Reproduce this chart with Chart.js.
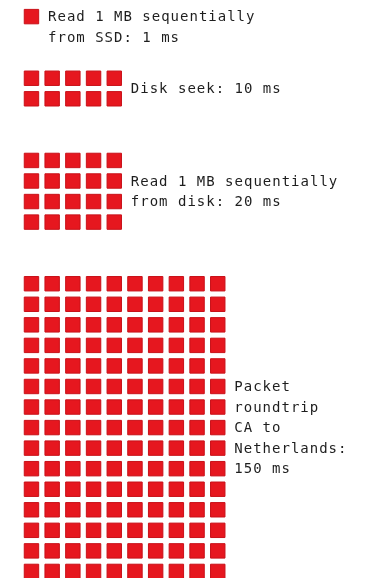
<!DOCTYPE html>
<html>
<head>
<meta charset="utf-8">
<script src="https://cdn.jsdelivr.net/npm/chart.js@4/dist/chart.umd.min.js"></script>
<style>
    html, body { margin: 0; padding: 0; background: #fff; }
    #wrap { position: relative; width: 367px; height: 578px; }
</style>
</head>
<body>
<div id="wrap"><canvas id="chart"></canvas></div>
<script>
// one square = 1 ms
const tasks = ['SSD read 1 MB', 'Disk seek', 'Disk read 1 MB', 'Packet CA to Netherlands'];
const latencyMs = [1, 10, 20, 150];
const columns = [1, 5, 5, 10];
const captions = [
    ['Read 1 MB sequentially', 'from SSD: 1 ms'],
    ['Disk seek: 10 ms'],
    ['Read 1 MB sequentially', 'from disk: 20 ms'],
    ['Packet', 'roundtrip', 'CA to', 'Netherlands:', '150 ms']
];
const gapRows = 2;

const squareColor = '#e6171f';
const squareBorder = '#c91119';

// lay the squares out row by row, each group under the previous one
const datasets = [];
const groupInfo = [];
let startRow = 0;
latencyMs.forEach((ms, g) => {
    const cols = columns[g];
    const rows = Math.ceil(ms / cols);
    const points = [];
    for (let i = 0; i < ms; i++) {
        points.push({ x: i % cols, y: startRow + Math.floor(i / cols) });
    }
    datasets.push({
        label: tasks[g],
        data: points,
        pointStyle: 'rect',
        pointRadius: 10.2,
        pointHoverRadius: 10.2,
        backgroundColor: squareColor,
        borderColor: squareBorder,
        borderWidth: 1
    });
    groupInfo.push({ startRow, rows, cols });
    startRow += rows + gapRows;
});

const captionPlugin = {
    id: 'captions',
    afterDatasetsDraw(chart) {
        const ctx = chart.ctx;
        const xs = chart.scales.x;
        const ys = chart.scales.y;
        ctx.save();
        ctx.font = '14px "DejaVu Sans Mono", monospace';
        ctx.letterSpacing = '1px';
        ctx.fillStyle = '#1e1e1e';
        ctx.textAlign = 'left';
        ctx.textBaseline = 'middle';
        groupInfo.forEach((grp, g) => {
            const lines = captions[g];
            const first = Math.max(0, (grp.rows - lines.length) / 2);
            const x = xs.getPixelForValue(grp.cols - 1 + 0.8);
            lines.forEach((line, k) => {
                const y = ys.getPixelForValue(grp.startRow + first + k);
                ctx.fillText(line, x, y + 1);
            });
        });
        ctx.restore();
    }
};

new Chart(document.getElementById('chart'), {
    type: 'scatter',
    data: { datasets: datasets },
    options: {
        responsive: true,
        maintainAspectRatio: false,
        animation: false,
        events: [],
        layout: { padding: 0, autoPadding: false },
        plugins: {
            legend: { display: false },
            tooltip: { enabled: false }
        },
        scales: {
            x: { type: 'linear', display: false, min: -1.52, max: 16.21 },
            y: { type: 'linear', display: false, reverse: true, min: -0.808, max: 27.32 }
        }
    },
    plugins: [captionPlugin]
});
</script>
</body>
</html>
